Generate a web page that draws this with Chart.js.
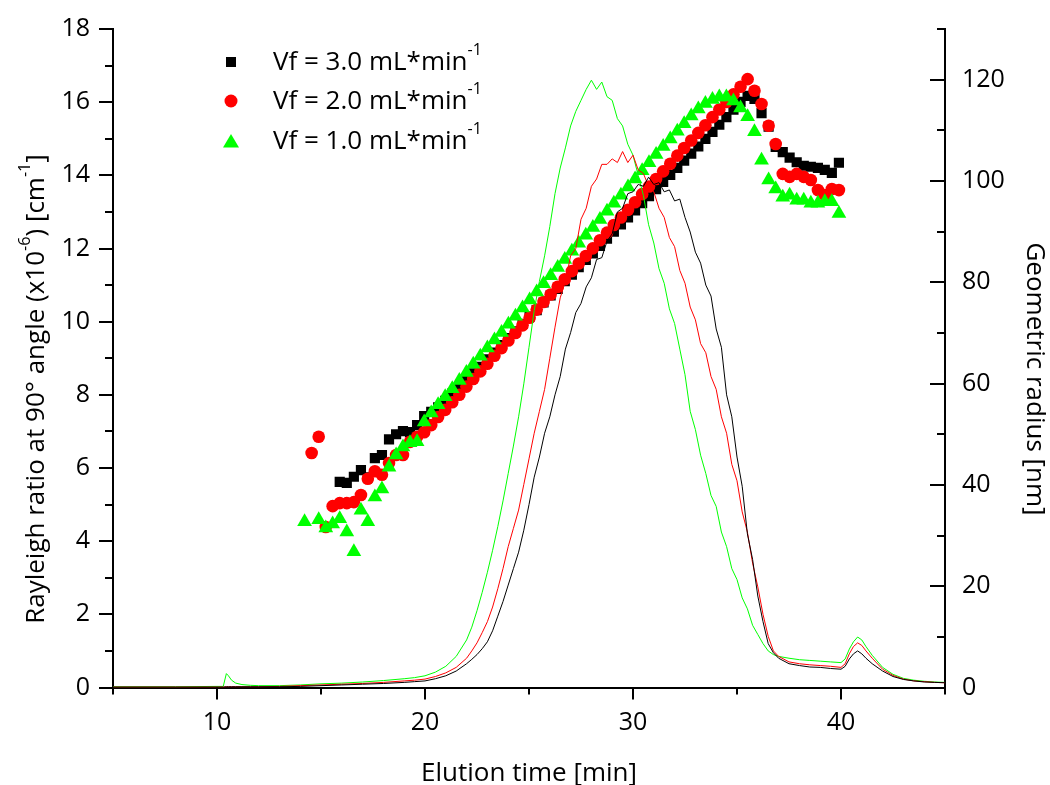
<!DOCTYPE html>
<html>
<head>
<meta charset="utf-8">
<script src="https://cdn.jsdelivr.net/npm/chart.js@4.4.1/dist/chart.umd.min.js"></script>
<style>
  body { margin: 0; background: #fff; }
  canvas { display: block; }
</style>
</head>
<body>
<canvas id="bieudo" width="1050" height="785"></canvas>
<script>
// elution time of the light scattering traces [min]
var lineTime = [5, 8, 10, 10.3, 10.45, 10.55, 10.7, 10.9, 11.2, 11.6, 12, 13, 14, 15, 16, 17, 18, 19, 19.5, 20,
    20.5, 21, 21.5, 22, 22.25, 22.5, 22.75, 23, 23.25, 23.5, 23.75, 24, 24.25, 24.5, 24.75, 25, 25.25, 25.5, 25.75, 26,
    26.25, 26.5, 26.75, 27, 27.25, 27.5, 27.75, 28, 28.25, 28.5, 28.75, 29, 29.25, 29.5, 29.75, 30, 30.25, 30.5, 30.75, 31,
    31.25, 31.5, 31.75, 32, 32.25, 32.5, 32.75, 33, 33.25, 33.5, 33.75, 34, 34.25, 34.5, 34.75, 35, 35.25, 35.5, 35.75, 36,
    36.25, 36.5, 36.75, 37, 37.5, 38, 38.5, 39, 39.5, 40, 40.2, 40.4, 40.6, 40.8, 41, 41.2, 41.5, 42, 42.5, 43,
    43.5, 44, 44.5, 45];

// Rayleigh ratio (x10^-6 cm^-1)
var rayBlack = [0.01, 0.01, 0.01, 0.01, 0.02, 0.02, 0.02, 0.02, 0.02, 0.02, 0.02, 0.02, 0.03, 0.05, 0.07, 0.09, 0.11, 0.14, 0.16, 0.18,
    0.24, 0.32, 0.45, 0.65, 0.77, 0.9, 1.06, 1.25, 1.55, 1.95, 2.35, 2.8, 3.25, 3.7, 4.3, 5.0, 5.75, 6.3, 6.95, 7.4,
    8.0, 8.5, 9.25, 9.7, 10.25, 10.5, 10.95, 11.2, 11.7, 11.75, 12.2, 12.4, 13.0, 13.1, 13.5, 13.55, 13.75, 13.7, 13.95, 13.75,
    13.8, 13.55, 13.6, 13.3, 13.35, 12.85, 12.45, 11.9, 11.6, 11.0, 10.7, 9.8, 9.3, 8.0, 7.4, 6.3, 5.5, 4.2, 3.5, 2.5,
    1.8, 1.2, 0.95, 0.8, 0.65, 0.6, 0.56, 0.55, 0.52, 0.5, 0.58, 0.78, 0.92, 1.0, 0.92, 0.8, 0.65, 0.45, 0.3, 0.22,
    0.18, 0.15, 0.14, 0.13];
var rayRed = [0.01, 0.01, 0.01, 0.01, 0.02, 0.02, 0.02, 0.02, 0.02, 0.02, 0.02, 0.03, 0.05, 0.07, 0.09, 0.11, 0.14, 0.18, 0.2, 0.23,
    0.3, 0.4, 0.55, 0.8, 1.0, 1.22, 1.5, 1.8, 2.2, 2.7, 3.25, 3.85, 4.35, 4.85, 5.55, 6.25, 6.95, 7.55, 8.15, 9.0,
    9.85, 10.65, 11.1, 11.8, 12.0, 12.8, 13.1, 13.7, 13.9, 14.3, 14.3, 14.45, 14.35, 14.65, 14.35, 14.55, 14.15, 14.05, 13.7, 13.55,
    13.1, 12.85, 12.3, 12.05, 11.4, 11.05, 10.4, 10.05, 9.4, 9.15, 8.5, 8.15, 7.4, 6.95, 6.1, 5.65, 4.8, 4.25, 3.4, 2.75,
    2.0, 1.4, 1.0, 0.85, 0.7, 0.65, 0.62, 0.6, 0.58, 0.55, 0.65, 0.92, 1.12, 1.22, 1.15, 1.0, 0.8, 0.5, 0.33, 0.23,
    0.18, 0.16, 0.14, 0.13];
var rayGreen = [0.02, 0.02, 0.03, 0.03, 0.38, 0.32, 0.2, 0.12, 0.08, 0.06, 0.05, 0.05, 0.07, 0.1, 0.12, 0.15, 0.19, 0.24, 0.27, 0.32,
    0.42, 0.58, 0.85, 1.3, 1.65, 2.1, 2.6, 3.15, 3.75, 4.4, 5.1, 5.85, 6.6, 7.4, 8.3, 9.3, 10.3, 11.1, 11.8, 12.6,
    13.5, 14.2, 14.75, 15.35, 15.75, 16.05, 16.35, 16.6, 16.35, 16.55, 16.15, 16.05, 15.55, 15.35, 14.85, 14.55, 14.0, 13.45, 12.65, 12.15,
    11.45, 11.05, 10.35, 9.95, 9.25, 8.55, 7.55, 7.05, 6.35, 5.85, 5.25, 4.95, 4.25, 3.85, 3.25, 2.95, 2.45, 2.15, 1.7, 1.45,
    1.2, 1.0, 0.9, 0.85, 0.8, 0.76, 0.74, 0.72, 0.7, 0.68, 0.78, 1.05, 1.25, 1.38, 1.3, 1.12, 0.88, 0.55, 0.36, 0.25,
    0.2, 0.17, 0.15, 0.14];

// elution time of the radius points [min]
var ptTime = [14.21, 14.55, 14.89, 15.23, 15.56, 15.90, 16.24, 16.58, 16.92, 17.25, 17.59, 17.93, 18.27, 18.61, 18.94, 19.28,
    19.62, 19.96, 20.30, 20.63, 20.97, 21.31, 21.65, 21.99, 22.32, 22.66, 23.00, 23.34, 23.68, 24.01, 24.35, 24.69,
    25.03, 25.37, 25.70, 26.04, 26.38, 26.72, 27.06, 27.39, 27.73, 28.07, 28.41, 28.75, 29.08, 29.42, 29.76, 30.10,
    30.44, 30.77, 31.11, 31.45, 31.79, 32.13, 32.46, 32.80, 33.14, 33.48, 33.82, 34.15, 34.49, 34.83, 35.17, 35.51,
    35.84, 36.18, 36.52, 36.86, 37.20, 37.53, 37.87, 38.21, 38.55, 38.89, 39.22, 39.56, 39.90];

// geometric radius [nm]
var rgBlack = [null, null, null, null, null, 40.6, 40.4, 41.6, 42.9, 41.5, 45.3, 45.9, 49.0, 50.0, 50.6, 50.4,
    51.8, 53.6, 54.4, 55.3, 56.6, 58.0, 59.1, 60.5, 62.0, 63.3, 64.8, 66.1, 67.6, 69.0, 70.3, 71.8,
    73.2, 74.5, 76.0, 77.4, 78.7, 80.2, 81.5, 83.0, 84.4, 85.7, 87.2, 88.6, 90.0, 91.4, 92.8, 94.2,
    95.6, 97.0, 98.4, 99.8, 101.2, 102.6, 104.0, 105.4, 106.8, 108.3, 109.7, 111.1, 112.6, 114.1, 115.6, 116.8,
    116.2, 113.4, 110.7, 106.7, 105.7, 104.6, 103.7, 103.0, 102.8, 102.6, 102.2, 101.6, 103.6];
var rgRed = [null, 46.3, 49.5, 31.7, 35.8, 36.4, 36.4, 36.6, 38.0, 41.2, 42.7, 42.0, 44.3, 45.9, 45.9, 48.5,
    49.5, 50.4, 51.8, 53.4, 54.8, 56.3, 57.8, 59.4, 60.9, 62.4, 63.9, 65.5, 67.0, 68.5, 70.0, 71.5,
    73.0, 74.6, 76.1, 77.6, 79.1, 80.6, 82.2, 83.7, 85.2, 86.7, 88.3, 89.8, 91.3, 92.8, 94.3, 95.8,
    97.4, 98.9, 100.4, 101.9, 103.4, 105.0, 106.5, 108.0, 109.5, 111.0, 112.6, 114.1, 115.6, 117.1, 118.6, 120.1,
    117.8, 115.2, 110.9, 107.3, 101.4, 100.8, 101.4, 100.8, 100.2, 98.2, 97.2, 98.4, 98.2];
var rgGreen = [32.7, null, 33.1, 31.5, 32.3, 33.3, 30.7, 26.8, 35.0, 32.7, 37.6, 39.2, 43.5, 45.9, 47.5, 48.3,
    48.5, 52.4, 54.2, 55.8, 57.4, 59.0, 60.6, 62.2, 63.8, 65.4, 67.0, 68.6, 70.1, 71.7, 73.3, 74.9,
    76.5, 78.1, 79.7, 81.3, 82.9, 84.5, 86.1, 87.7, 89.3, 90.8, 92.4, 94.0, 95.6, 97.2, 98.8, 100.4,
    102.0, 103.6, 105.2, 106.8, 108.3, 109.8, 111.3, 112.8, 114.2, 115.3, 116.1, 116.6, 116.6, 115.8, 114.4, 112.7,
    109.7, 104.1, 100.2, 98.4, 96.8, 97.2, 96.2, 96.2, 95.6, 95.6, 95.9, 95.9, 93.6];

var tenSeries = ['Vf = 3.0 mL*min', 'Vf = 2.0 mL*min', 'Vf = 1.0 mL*min'];
var mauSeries = ['#000000', '#ff0000', '#00ff00'];

var FONT = '"Open Sans", "Noto Sans", sans-serif';

function ghep(xs, ys) {
    var out = [];
    for (var i = 0; i < xs.length; i++) {
        if (ys[i] !== null) out.push({ x: xs[i], y: ys[i] });
    }
    return out;
}

// text with superscripts, parts = [[text, isSup], ...]
function veChu(ctx, parts, x, y, size, canh) {
    var w = 0;
    parts.forEach(function (p) {
        ctx.font = (p[1] ? size * 0.62 : size) + 'px ' + FONT;
        w += ctx.measureText(p[0]).width;
    });
    var cx = canh === 'center' ? x - w / 2 : x;
    ctx.textAlign = 'left';
    ctx.textBaseline = 'alphabetic';
    parts.forEach(function (p) {
        ctx.font = (p[1] ? size * 0.62 : size) + 'px ' + FONT;
        ctx.fillText(p[0], cx, p[1] ? y - size * 0.55 : y);
        cx += ctx.measureText(p[0]).width;
    });
}

var phuTro = {
    id: 'phuTro',
    afterDraw: function (chart) {
        var ctx = chart.ctx;
        var a = chart.chartArea;
        var sx = chart.scales.x, sy = chart.scales.y, sy2 = chart.scales.y2;
        ctx.save();
        ctx.strokeStyle = '#000';
        ctx.lineWidth = 2;
        ctx.beginPath();
        for (var v = sx.min; v <= sx.max; v += 5) {
            var px = sx.getPixelForValue(v);
            ctx.moveTo(px, a.bottom);
            ctx.lineTo(px, a.bottom + (v % 10 === 0 ? 12 : 7));
        }
        for (var v2 = sy.min; v2 <= sy.max; v2 += 1) {
            var py = Math.round(sy.getPixelForValue(v2));
            ctx.moveTo(a.left, py);
            ctx.lineTo(a.left - (v2 % 2 === 0 ? 14 : 8), py);
        }
        for (var v3 = sy2.min; v3 <= sy2.max; v3 += 10) {
            var py2 = Math.round(sy2.getPixelForValue(v3));
            ctx.moveTo(a.right, py2);
            ctx.lineTo(a.right - (v3 % 20 === 0 ? 15 : 8), py2);
        }
        ctx.stroke();

        ctx.fillStyle = '#000';
        // bottom title
        veChu(ctx, [['Elution time [min]', false]], (a.left + a.right) / 2, 781, 26, 'center');
        // left title
        ctx.save();
        ctx.translate(44, 389);
        ctx.rotate(-Math.PI / 2);
        veChu(ctx, [['Rayleigh ratio at 90\u00b0 angle (x10', false], ['-6', true], [') [cm', false], ['-1', true], [']', false]], 0, 0, 26, 'center');
        ctx.restore();
        // right title
        ctx.save();
        ctx.translate(1027, 379);
        ctx.rotate(Math.PI / 2);
        veChu(ctx, [['Geometric radius [nm]', false]], 0, 0, 26, 'center');
        ctx.restore();

        // legend
        var lx = 231, ly = [62, 101, 141];
        for (var i = 0; i < 3; i++) {
            ctx.fillStyle = mauSeries[i];
            ctx.beginPath();
            if (i === 0) {
                ctx.rect(lx - 5, ly[i] - 5, 10, 10);
            } else if (i === 1) {
                ctx.arc(lx, ly[i], 6.5, 0, Math.PI * 2);
            } else {
                ctx.moveTo(lx, ly[i] - 7);
                ctx.lineTo(lx + 8, ly[i] + 6.5);
                ctx.lineTo(lx - 8, ly[i] + 6.5);
                ctx.closePath();
            }
            ctx.fill();
            ctx.fillStyle = '#000';
            veChu(ctx, [[tenSeries[i], false], ['-1', true]], 273, ly[i] + 7.5, 26, 'left');
        }
        ctx.restore();
    }
};

var tickFont = { family: FONT, size: 25 };

new Chart(document.getElementById('bieudo'), {
    type: 'scatter',
    data: {
        datasets: [
            { label: 'line3', data: ghep(lineTime, rayBlack), showLine: true, borderColor: mauSeries[0], borderWidth: 1, pointRadius: 0, yAxisID: 'y' },
            { label: 'line2', data: ghep(lineTime, rayRed), showLine: true, borderColor: mauSeries[1], borderWidth: 1, pointRadius: 0, yAxisID: 'y' },
            { label: 'line1', data: ghep(lineTime, rayGreen), showLine: true, borderColor: mauSeries[2], borderWidth: 1, pointRadius: 0, yAxisID: 'y' },
            { label: tenSeries[2], data: ghep(ptTime, rgGreen), showLine: false, pointStyle: 'triangle', pointRadius: 8.5, backgroundColor: mauSeries[2], borderWidth: 0, yAxisID: 'y2' },
            { label: tenSeries[1], data: ghep(ptTime, rgRed), showLine: false, pointStyle: 'circle', pointRadius: 6.3, backgroundColor: mauSeries[1], borderWidth: 0, yAxisID: 'y2' },
            { label: tenSeries[0], data: ghep(ptTime, rgBlack), showLine: false, pointStyle: 'rect', pointRadius: 7.2, backgroundColor: mauSeries[0], borderWidth: 0, yAxisID: 'y2' }
        ]
    },
    options: {
        responsive: false,
        animation: false,
        layout: { padding: { top: 29, left: 0, right: 0, bottom: 0 } },
        plugins: {
            legend: { display: false },
            tooltip: { enabled: false }
        },
        scales: {
            x: {
                type: 'linear', position: 'bottom', min: 5, max: 45,
                afterFit: function (s) { s.height = 97.5; s.paddingLeft = 0; s.paddingRight = 0; },
                grid: { display: false, drawTicks: false },
                border: { display: true, color: '#000', width: 2 },
                ticks: {
                    stepSize: 5, autoSkip: false, maxRotation: 0, padding: 20, color: '#000', font: tickFont,
                    callback: function (v) { return v % 10 === 0 ? v : ''; }
                }
            },
            y: {
                type: 'linear', position: 'left', min: 0, max: 18,
                afterFit: function (s) { s.width = 113; s.paddingTop = 0; s.paddingBottom = 0; },
                grid: { display: false, drawTicks: false },
                border: { display: true, color: '#000', width: 2 },
                ticks: {
                    stepSize: 2, autoSkip: false, padding: 23, color: '#000', font: tickFont, maxTicksLimit: 50
                }
            },
            y2: {
                type: 'linear', position: 'right', min: 0, max: 130,
                afterFit: function (s) { s.width = 105; s.paddingTop = 0; s.paddingBottom = 0; },
                grid: { display: false, drawTicks: false },
                border: { display: true, color: '#000', width: 2 },
                ticks: {
                    stepSize: 10, autoSkip: false, padding: 17, color: '#000', font: tickFont, maxTicksLimit: 50,
                    callback: function (v) { return (v % 20 === 0 && v <= 120) ? v : ''; }
                }
            }
        }
    },
    plugins: [phuTro]
});
</script>
</body>
</html>
